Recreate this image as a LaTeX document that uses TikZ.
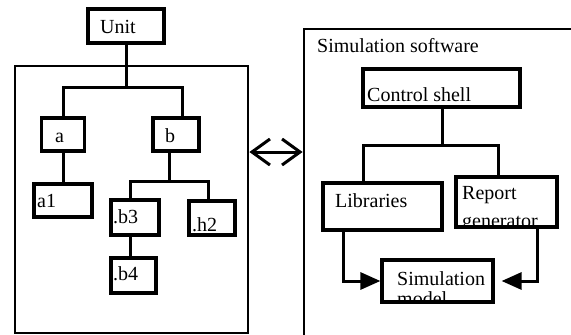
\documentclass[tikz,border=0pt]{standalone}
\usepackage{fontspec}
\setmainfont{Liberation Serif}
\usetikzlibrary{arrows.meta,calc}
\begin{document}
\begin{tikzpicture}[x=1pt,y=-1pt,
  box/.style={draw,line width=3.2pt,inner sep=0pt},
  panel/.style={draw,line width=2.8pt,inner sep=0pt},
  conn/.style={line width=3pt},
  lab/.style={anchor=base west,inner sep=0pt,font=\fontsize{20}{22}\selectfont},
  tri/.style={-{Triangle[length=20pt,width=17pt]}},
  barb/.style={{Straight Barb[length=18pt,width=26pt]}-{Straight Barb[length=18pt,width=26pt]}}
]
\useasboundingbox (0,0) rectangle (571,335);
\clip (0,0) rectangle (571,335);
% panels
\node[panel,minimum width=233pt,minimum height=267pt] (lp) at (131.5,199.5) {};
\node[panel,minimum width=290pt,minimum height=330pt] (rp) at (449,194) {};
% left tree boxes
\node[box,minimum width=76pt,minimum height=34pt] (unit) at (126,26) {};
\node[box,minimum width=43pt,minimum height=33pt] (a) at (63,134.5) {};
\node[box,minimum width=46pt,minimum height=33pt] (b) at (176,134.5) {};
\node[box,minimum width=58pt,minimum height=33pt] (a1) at (63,200.5) {};
\node[box,minimum width=48pt,minimum height=35pt] (b3) at (135,217.5) {};
\node[box,minimum width=46pt,minimum height=34pt] (h2) at (212,218) {};
\node[box,minimum width=45pt,minimum height=35pt] (b4) at (133.5,275.5) {};
% right boxes
\node[box,minimum width=157pt,minimum height=38pt] (ctrl) at (441.5,88) {};
\node[box,minimum width=119pt,minimum height=47pt] (lib) at (382.5,206.5) {};
\node[box,minimum width=101pt,minimum height=50pt] (rep) at (506.5,202) {};
\node[box,minimum width=111pt,minimum height=42pt] (sim) at (437.5,281) {};
% helper coordinates
\coordinate (j1) at (126,87);
\coordinate (bt) at (182,0);
\coordinate (j2) at (169,181);
\coordinate (bx) at (130,0);
\coordinate (hx) at (208,0);
\coordinate (j3) at (442,145);
\coordinate (lx) at (363,0);
\coordinate (rx) at (498,0);
\coordinate (la) at (343,0);
\coordinate (ra) at (537,0);
\coordinate (dy) at (0,152);
% left connectors
\draw[conn] (unit.south) -- (j1);
\draw[conn] (a.north) |- (j1) -| (b.north -| bt);
\draw[conn] (a.south) -- (a1.north);
\draw[conn] (b.south -| j2) -- (j2);
\draw[conn] (b3.north -| bx) |- (j2) -| (h2.north -| hx);
\draw[conn] (b3.south -| bx) -- (b4.north -| bx);
% right connectors
\draw[conn] (ctrl.south -| j3) -- (j3);
\draw[conn] (lib.north -| lx) |- (j3) -| (rep.north -| rx);
\draw[conn,tri] (lib.south -| la) |- (sim.west);
\draw[conn,tri,shorten >=7pt] (rep.south -| ra) |- (sim.east);
% double arrow between panels
\draw[conn,barb] (lp.east |- dy) -- (rp.west |- dy);
% labels
\node[lab] (tunit) at (100,33) {Unit};
\node[lab] (ta) at (55,142) {a};
\node[lab] (tb) at (165,142) {b};
\node[lab] (ta1) at (37,207) {a1};
\node[lab] (tb3) at (113,223) {.b3};
\node[lab] (th2) at (192,231) {.h2};
\node[lab] (tb4) at (113,280) {.b4};
\node[lab] (tsw) at (317,52) {Simulation software};
\node[lab] (tctrl) at (367,101) {Control shell};
\node[lab] (tlib) at (335,207) {Libraries};
\node[lab] (trep) at (462,199) {Report};
\node[lab] (tsim) at (397,285) {Simulation};
\begin{scope}
  \clip (rep.south west) rectangle (rep.north east);
  \node[lab] (tgen) at (462,227) {generator};
\end{scope}
\begin{scope}
  \clip (sim.south west) rectangle (sim.north east);
  \node[lab] (tmod) at (397,305) {model};
\end{scope}
\end{tikzpicture}
\end{document}
